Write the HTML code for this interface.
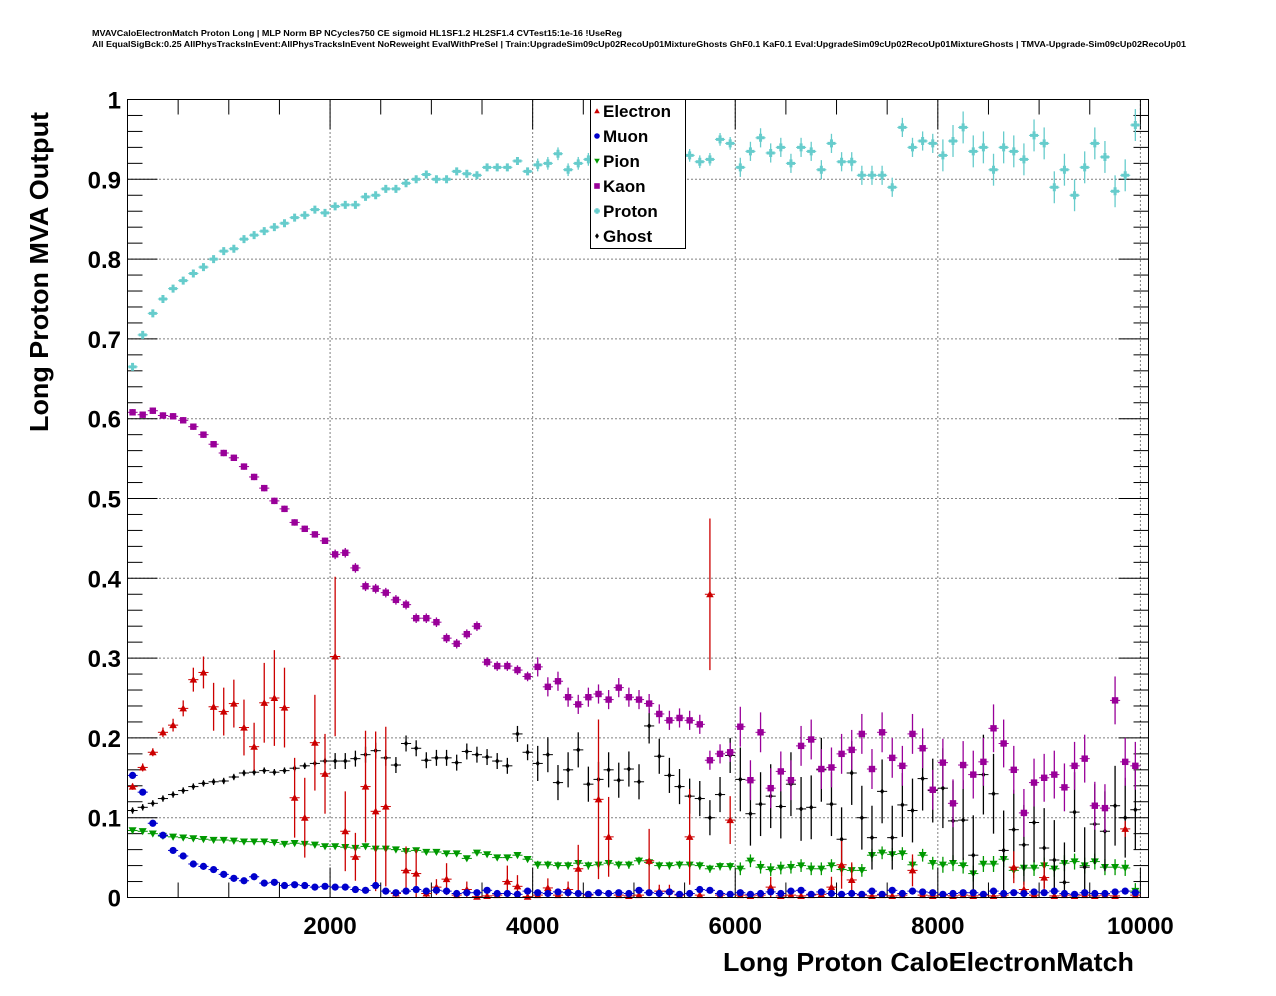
<!DOCTYPE html>
<html><head><meta charset="utf-8">
<style>
html,body{margin:0;padding:0;background:#fff;}
svg{display:block;font-family:"Liberation Sans",sans-serif;}
</style></head>
<body>
<svg id="chart" width="1276" height="996" viewBox="0 0 1276 996" xmlns="http://www.w3.org/2000/svg">
<rect width="1276" height="996" fill="#fff"/>
<text x="92" y="36" font-size="8.5" font-weight="bold" textLength="530" lengthAdjust="spacingAndGlyphs">MVAVCaloElectronMatch Proton Long | MLP Norm BP NCycles750 CE sigmoid HL1SF1.2 HL2SF1.4 CVTest15:1e-16 !UseReg</text>
<text x="92" y="47" font-size="8.5" font-weight="bold" textLength="1094" lengthAdjust="spacingAndGlyphs">All EqualSigBck:0.25 AllPhysTracksInEvent:AllPhysTracksInEvent NoReweight EvalWithPreSel | Train:UpgradeSim09cUp02RecoUp01MixtureGhosts GhF0.1 KaF0.1 Eval:UpgradeSim09cUp02RecoUp01MixtureGhosts | TMVA-Upgrade-Sim09cUp02RecoUp01</text>
<g id="grid"></g>
<g id="ticks"></g>
<g id="marks"></g>
<rect x="127.5" y="99.5" width="1021" height="798" fill="none" stroke="#000" stroke-width="1"/>
<g id="labels"></g>
<text transform="translate(48,272) rotate(-90)" text-anchor="middle" font-size="26" font-weight="bold" textLength="320" lengthAdjust="spacingAndGlyphs">Long Proton MVA Output</text>
<text x="1134" y="971" text-anchor="end" font-size="26" font-weight="bold" textLength="411" lengthAdjust="spacingAndGlyphs">Long Proton CaloElectronMatch</text>
<g id="legend"></g>
</svg>
<script>
const nbins = 100;
const binLow = 0;
const binWidth = 100;
const electron = [0.139,0.163,0.182,0.207,0.216,0.237,0.273,0.282,0.239,0.233,0.243,0.213,0.189,0.244,0.25,0.238,0.125,0.10,0.194,0.155,0.302,0.083,0.051,0.139,0.108,0.114,0.005,0.034,0.030,0.005,0.013,0.023,0.003,0.01,0.001,0.002,0.003,0.02,0.014,0.001,0.003,0.012,0.003,0.01,0.036,0.003,0.123,0.076,0.003,0.002,0.003,0.046,0.008,0.008,0.003,0.076,0.003,0.38,0.003,0.097,0.003,0.002,0.003,0.013,0.002,0.003,0.002,0.003,0.004,0.013,0.041,0.022,0.003,0.002,0.003,0.002,0.003,0.034,0.003,0.002,0.003,0.002,0.003,0.002,0.003,0.002,0.003,0.038,0.01,0.003,0.025,0.002,0.003,0.002,0.003,0.002,0.003,0.002,0.086,0.003];
const electronErr = [0.004,0.005,0.005,0.006,0.008,0.01,0.015,0.02,0.03,0.03,0.03,0.035,0.03,0.05,0.06,0.05,0.05,0.05,0.06,0.05,0.1,0.05,0.03,0.07,0.1,0.1,0.005,0.03,0.03,0.005,0.01,0.02,0.003,0.01,0.001,0.002,0.003,0.02,0.014,0.001,0.003,0.012,0.003,0.01,0.03,0.003,0.1,0.05,0.003,0.002,0.003,0.04,0.008,0.008,0.003,0.06,0.003,0.095,0.003,0.03,0.003,0.002,0.003,0.013,0.002,0.003,0.002,0.003,0.004,0.013,0.03,0.022,0.003,0.002,0.003,0.002,0.003,0.02,0.003,0.002,0.003,0.002,0.003,0.002,0.003,0.002,0.003,0.02,0.01,0.003,0.02,0.002,0.003,0.002,0.003,0.002,0.003,0.002,0.01,0.003];
const muon = [0.153,0.132,0.093,0.078,0.059,0.052,0.042,0.039,0.035,0.029,0.024,0.021,0.026,0.018,0.019,0.015,0.016,0.015,0.013,0.014,0.013,0.013,0.010,0.009,0.015,0.008,0.006,0.008,0.010,0.008,0.009,0.008,0.005,0.006,0.006,0.009,0.005,0.005,0.004,0.008,0.006,0.005,0.007,0.006,0.005,0.004,0.006,0.005,0.006,0.005,0.009,0.006,0.005,0.007,0.004,0.005,0.01,0.009,0.005,0.004,0.006,0.004,0.005,0.007,0.005,0.008,0.009,0.004,0.007,0.005,0.004,0.005,0.004,0.008,0.004,0.009,0.005,0.008,0.007,0.006,0.004,0.005,0.006,0.006,0.004,0.008,0.005,0.006,0.005,0.007,0.006,0.008,0.005,0.004,0.006,0.005,0.005,0.007,0.008,0.006];
const pion = [0.084,0.083,0.080,0.077,0.076,0.075,0.074,0.073,0.072,0.072,0.071,0.070,0.070,0.070,0.069,0.067,0.068,0.067,0.066,0.064,0.064,0.063,0.062,0.064,0.061,0.061,0.060,0.058,0.059,0.057,0.057,0.055,0.055,0.049,0.056,0.054,0.050,0.050,0.053,0.048,0.041,0.041,0.040,0.040,0.043,0.040,0.041,0.043,0.041,0.041,0.046,0.044,0.040,0.040,0.041,0.041,0.040,0.036,0.039,0.039,0.036,0.046,0.038,0.035,0.037,0.038,0.040,0.036,0.036,0.040,0.035,0.034,0.034,0.053,0.056,0.054,0.055,0.041,0.053,0.043,0.041,0.043,0.040,0.030,0.042,0.042,0.048,0.034,0.037,0.037,0.040,0.036,0.043,0.045,0.040,0.045,0.038,0.038,0.037,0.008];
const kaon = [0.608,0.605,0.61,0.604,0.603,0.598,0.59,0.58,0.568,0.557,0.551,0.54,0.527,0.513,0.497,0.487,0.47,0.462,0.455,0.447,0.43,0.432,0.413,0.39,0.387,0.382,0.373,0.367,0.35,0.35,0.345,0.325,0.318,0.33,0.34,0.295,0.29,0.29,0.285,0.277,0.289,0.264,0.271,0.251,0.242,0.251,0.255,0.248,0.263,0.251,0.248,0.243,0.23,0.222,0.225,0.222,0.217,0.172,0.18,0.182,0.214,0.147,0.207,0.137,0.158,0.147,0.19,0.198,0.161,0.163,0.18,0.185,0.205,0.161,0.207,0.175,0.165,0.205,0.187,0.135,0.169,0.118,0.166,0.154,0.17,0.212,0.193,0.16,0.106,0.144,0.15,0.154,0.138,0.165,0.174,0.115,0.112,0.247,0.17,0.165];
const proton = [0.665,0.705,0.732,0.75,0.763,0.773,0.782,0.79,0.8,0.81,0.813,0.825,0.83,0.835,0.84,0.845,0.852,0.855,0.862,0.858,0.866,0.868,0.868,0.878,0.88,0.888,0.888,0.895,0.9,0.906,0.9,0.9,0.91,0.907,0.905,0.915,0.915,0.915,0.923,0.91,0.918,0.92,0.932,0.912,0.92,0.925,0.93,0.93,0.93,0.93,0.93,0.93,0.93,0.93,0.93,0.93,0.922,0.925,0.95,0.945,0.915,0.935,0.952,0.933,0.94,0.92,0.94,0.935,0.912,0.945,0.922,0.922,0.905,0.905,0.905,0.89,0.965,0.94,0.948,0.945,0.93,0.948,0.965,0.935,0.94,0.912,0.94,0.935,0.925,0.955,0.945,0.89,0.912,0.88,0.915,0.945,0.928,0.885,0.905,0.968];
const ghost = [0.109,0.113,0.118,0.124,0.129,0.134,0.139,0.143,0.145,0.146,0.151,0.156,0.157,0.159,0.157,0.159,0.162,0.165,0.168,0.171,0.171,0.171,0.174,0.179,0.184,0.175,0.166,0.193,0.187,0.172,0.175,0.175,0.169,0.183,0.179,0.176,0.171,0.165,0.205,0.182,0.168,0.179,0.144,0.160,0.185,0.142,0.148,0.160,0.147,0.161,0.145,0.215,0.177,0.153,0.139,0.127,0.124,0.100,0.129,0.178,0.148,0.105,0.117,0.127,0.114,0.142,0.111,0.113,0.160,0.117,0.073,0.156,0.100,0.075,0.133,0.075,0.116,0.109,0.149,0.134,0.137,0.096,0.097,0.053,0.154,0.130,0.059,0.085,0.066,0.094,0.062,0.047,0.019,0.107,0.038,0.092,0.083,0.115,0.1,0.11];
// estimated error-bar half-lengths per region (bins 0-19, 20-39, 40-59, 60-79, 80-99)
const ghostErrRegions = [0.004,0.01,0.022,0.04,0.05];
const kaonErrRegions = [0.004,0.006,0.012,0.025,0.03];
const protonErrRegions = [0.003,0.004,0.008,0.012,0.02];
const pionErrRegions = [0.002,0.003,0.005,0.008,0.01];
const yTicks = [0,0.1,0.2,0.3,0.4,0.5,0.6,0.7,0.8,0.9,1];
const yTickLabels = ["0","0.1","0.2","0.3","0.4","0.5","0.6","0.7","0.8","0.9","1"];
const xTicks = [2000,4000,6000,8000,10000];
const xTickLabels = ["2000","4000","6000","8000","10000"];
const legendNames = ["Electron","Muon","Pion","Kaon","Proton","Ghost"];

const NS = "http://www.w3.org/2000/svg";
const X0 = 127.5, X1 = 1148.5, Y0 = 897.5, Y1 = 99.5;
const xMin = 0, xMax = 10080;
function sx(v){ return X0 + (v - xMin) / (xMax - xMin) * (X1 - X0); }
function sy(v){ return Y0 - v * (Y0 - Y1); }
function mk(tag, attrs, parent){ const e = document.createElementNS(NS, tag); for (const k in attrs) e.setAttribute(k, attrs[k]); parent.appendChild(e); return e; }

const grid = document.getElementById('grid');
const ticks = document.getElementById('ticks');
const labels = document.getElementById('labels');
yTicks.forEach((t,i)=>{
  const y = sy(t);
  if (t > 0 && t < 1) { const g = mk('line',{x1:X0,x2:X1,y1:y,y2:y,stroke:'#000','stroke-width':1,'stroke-dasharray':'1,3'},grid);   }
  mk('line',{x1:X0,x2:X0+30,y1:y,y2:y,stroke:'#000'},ticks);
  mk('line',{x1:X1,x2:X1-30,y1:y,y2:y,stroke:'#000'},ticks);
  const tx = mk('text',{x:121,y:y+9,'text-anchor':'end','font-size':24,'font-weight':'bold'},labels);
  tx.textContent = yTickLabels[i];
  
  
});
for (let k = 0; k < 50; k++) { const v = k*0.02; if (k%5===0) continue; const y = sy(v);
  mk('line',{x1:X0,x2:X0+15,y1:y,y2:y,stroke:'#000'},ticks);
  mk('line',{x1:X1,x2:X1-15,y1:y,y2:y,stroke:'#000'},ticks); }
xTicks.forEach((t,i)=>{
  const x = sx(t);
  const g = mk('line',{x1:x,x2:x,y1:Y0,y2:Y1,stroke:'#000','stroke-width':1,'stroke-dasharray':'1,3'},grid);
   
  const tx = mk('text',{x:x,y:934,'text-anchor':'middle','font-size':24,'font-weight':'bold'},labels);
  tx.textContent = xTickLabels[i];
  
  
});
for (let v = 500; v < xMax; v += 500) { const x = sx(v); const L = (v%2000===0)?30:15;
  mk('line',{x1:x,x2:x,y1:Y0,y2:Y0-L,stroke:'#000'},ticks);
  mk('line',{x1:x,x2:x,y1:Y1,y2:Y1+L,stroke:'#000'},ticks); }

const marks = document.getElementById('marks');
function marker(type, color, x, y, s, parent){
  let e;
  if (type==='tri') e = mk('polygon',{points:`${x},${y-s} ${x-s},${y+s*0.8} ${x+s},${y+s*0.8}`,fill:color},parent);
  else if (type==='circ') e = mk('circle',{cx:x,cy:y,r:s,fill:color},parent);
  else if (type==='tridown') e = mk('polygon',{points:`${x},${y+s} ${x-s},${y-s*0.8} ${x+s},${y-s*0.8}`,fill:color},parent);
  else if (type==='sq') e = mk('rect',{x:x-s,y:y-s,width:2*s,height:2*s,fill:color},parent);
  else if (type==='cross') e = mk('path',{d:`M${x-s},${y}H${x+s}M${x},${y-s}V${y+s}`,stroke:color,'stroke-width':3},parent);
  else e = mk('polygon',{points:`${x},${y-s} ${x+s*0.7},${y} ${x},${y+s} ${x-s*0.7},${y}`,fill:color},parent);
  return e;
}
function series(name, data, err, regions, color, type, size){
  const g = mk('g',{},marks);
  
  
  data.forEach((v,i)=>{
    if (v === null) return;
    const c = binLow + binWidth*(i+0.5);
    const x = sx(c), y = sy(v);
    const e = err ? err[i] : regions[Math.min(regions.length-1, Math.floor(i/20))];
    mk('line',{x1:sx(c-binWidth/2),x2:sx(c+binWidth/2),y1:y,y2:y,stroke:color,'stroke-width':1},g);
    mk('line',{x1:x,x2:x,y1:sy(Math.max(0,v-e)),y2:sy(v+e),stroke:color,'stroke-width':1.3},g);
    const m = marker(type,color,x,y,size,g);
    
    
  });
}
const colors = ['#cc0000','#0000cc','#009900','#990099','#66cccc','#000000'];
const types = ['tri','circ','tridown','sq','cross','diam'];
series('pion', pion, null, pionErrRegions, colors[2], types[2], 4);
series('ghost', ghost, null, ghostErrRegions, colors[5], types[5], 3);
series('kaon', kaon, null, kaonErrRegions, colors[3], types[3], 3.2);
series('proton', proton, null, protonErrRegions, colors[4], types[4], 4);
series('electron', electron, electronErr, null, colors[0], types[0], 3.8);
series('muon', muon, null, [0.002], colors[1], types[1], 3.6);

const leg = document.getElementById('legend');
const box = mk('rect',{x:590.5,y:99.5,width:95,height:149,fill:'#fff',stroke:'#000'},leg);


legendNames.forEach((n,i)=>{
  const y = 111 + i*25;
  const g = mk('g',{},leg);
  
  
  marker(types[i], colors[i], 597, y, 2.8, g);
  const t = mk('text',{x:603,y:y+6,'font-size':17,'font-weight':'bold'},g);
  t.textContent = n;
});
</script>
</body></html>
